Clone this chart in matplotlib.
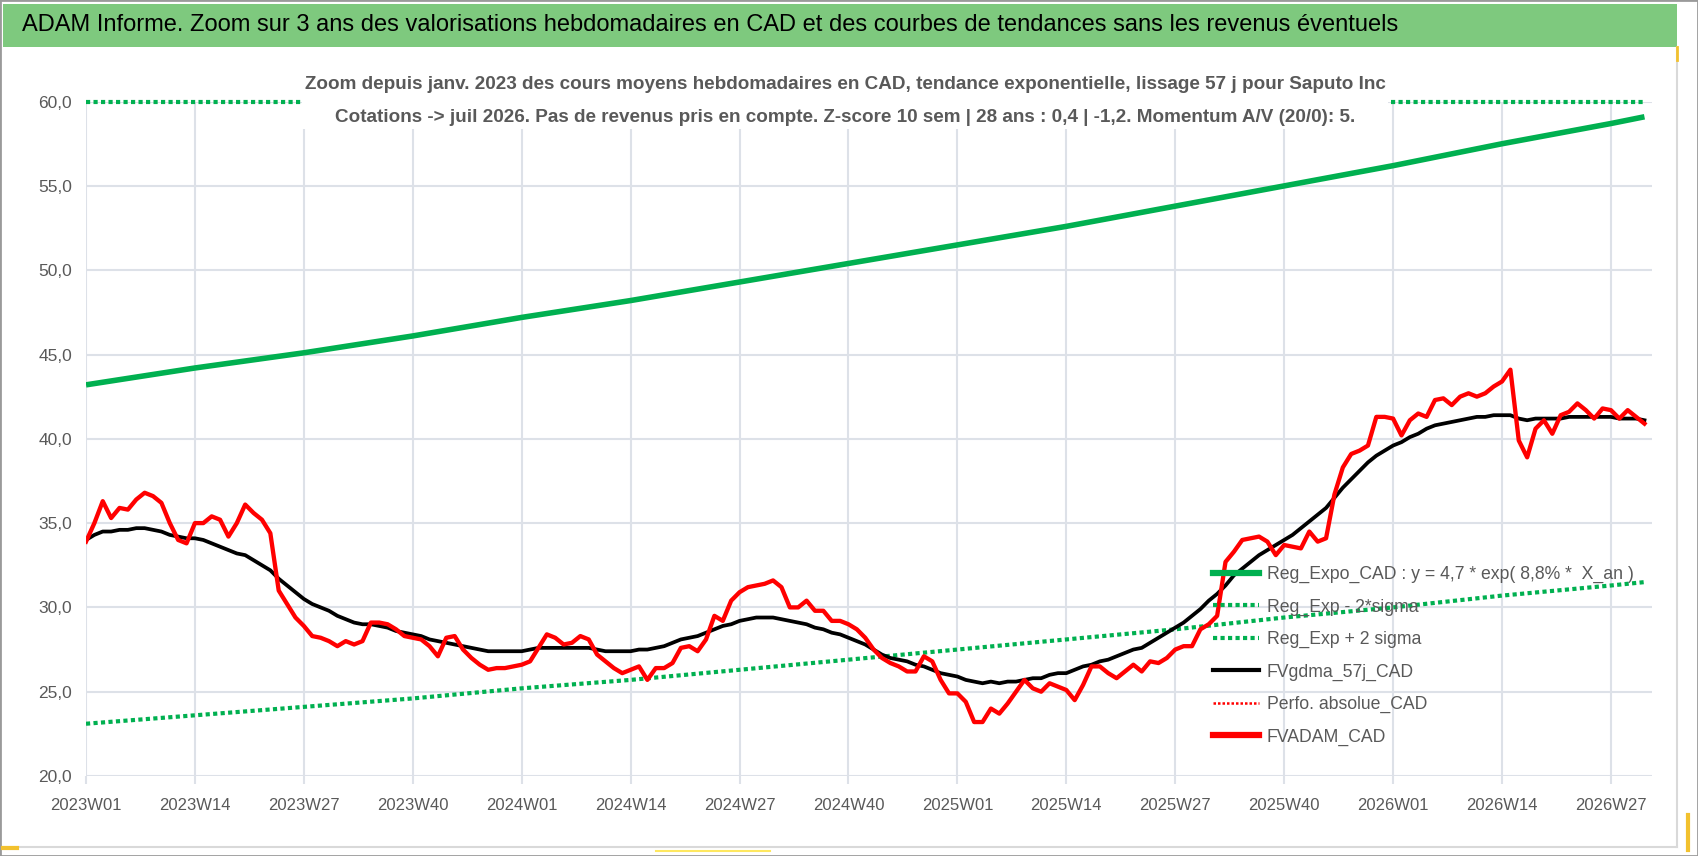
import numpy as np
import matplotlib
matplotlib.use("Agg")
import matplotlib.pyplot as plt
from matplotlib.lines import Line2D
from matplotlib.patches import Rectangle
from matplotlib.ticker import FuncFormatter

plt.rcParams['font.family'] = ['Liberation Sans Narrow', 'Liberation Sans', 'DejaVu Sans']

# weekly valuations, 2023W01 .. 2026W31 (one value per week)
fvadam_cad = [
    33.9, 35.0, 36.3, 35.3, 35.9, 35.8, 36.4, 36.8, 36.6, 36.2,
    35.0, 34.0, 33.8, 35.0, 35.0, 35.4, 35.2, 34.2, 35.0, 36.1,
    35.6, 35.2, 34.4, 31.0, 30.2, 29.4, 28.9, 28.3, 28.2, 28.0,
    27.7, 28.0, 27.8, 28.0, 29.1, 29.1, 29.0, 28.7, 28.3, 28.2,
    28.1, 27.7, 27.1, 28.2, 28.3, 27.5, 27.0, 26.6, 26.3, 26.4,
    26.4, 26.5, 26.6, 26.8, 27.6, 28.4, 28.2, 27.8, 27.9, 28.3,
    28.1, 27.2, 26.8, 26.4, 26.1, 26.3, 26.5, 25.7, 26.4, 26.4,
    26.7, 27.6, 27.7, 27.4, 28.1, 29.5, 29.2, 30.4, 30.9, 31.2,
    31.3, 31.4, 31.6, 31.2, 30.0, 30.0, 30.4, 29.8, 29.8, 29.2,
    29.2, 29.0, 28.7, 28.2, 27.5, 27.0, 26.7, 26.5, 26.2, 26.2,
    27.1, 26.8, 25.7, 24.9, 24.9, 24.4, 23.2, 23.2, 24.0, 23.7,
    24.3, 25.0, 25.7, 25.2, 25.0, 25.5, 25.3, 25.1, 24.5, 25.4,
    26.5, 26.5, 26.1, 25.8, 26.2, 26.6, 26.2, 26.8, 26.7, 27.0,
    27.5, 27.7, 27.7, 28.7, 29.0, 29.5, 32.7, 33.3, 34.0, 34.1,
    34.2, 33.9, 33.1, 33.7, 33.6, 33.5, 34.5, 33.9, 34.1, 36.7,
    38.3, 39.1, 39.3, 39.6, 41.3, 41.3, 41.2, 40.2, 41.1, 41.5,
    41.3, 42.3, 42.4, 42.0, 42.5, 42.7, 42.5, 42.7, 43.1, 43.4,
    44.1, 39.9, 38.9, 40.6, 41.1, 40.3, 41.4, 41.6, 42.1, 41.7,
    41.2, 41.8, 41.7, 41.2, 41.7, 41.3, 40.9,
]

fvgdma_57j_cad = [
    34.0, 34.3, 34.5, 34.5, 34.6, 34.6, 34.7, 34.7, 34.6, 34.5,
    34.3, 34.2, 34.1, 34.1, 34.0, 33.8, 33.6, 33.4, 33.2, 33.1,
    32.8, 32.5, 32.2, 31.7, 31.3, 30.9, 30.5, 30.2, 30.0, 29.8,
    29.5, 29.3, 29.1, 29.0, 29.0, 28.9, 28.8, 28.6, 28.5, 28.4,
    28.3, 28.1, 28.0, 27.9, 27.8, 27.7, 27.6, 27.5, 27.4, 27.4,
    27.4, 27.4, 27.4, 27.5, 27.6, 27.6, 27.6, 27.6, 27.6, 27.6,
    27.6, 27.5, 27.4, 27.4, 27.4, 27.4, 27.5, 27.5, 27.6, 27.7,
    27.9, 28.1, 28.2, 28.3, 28.5, 28.7, 28.9, 29.0, 29.2, 29.3,
    29.4, 29.4, 29.4, 29.3, 29.2, 29.1, 29.0, 28.8, 28.7, 28.5,
    28.4, 28.2, 28.0, 27.8, 27.5, 27.2, 27.0, 26.9, 26.8, 26.6,
    26.5, 26.3, 26.1, 26.0, 25.9, 25.7, 25.6, 25.5, 25.6, 25.5,
    25.6, 25.6, 25.7, 25.8, 25.8, 26.0, 26.1, 26.1, 26.3, 26.5,
    26.6, 26.8, 26.9, 27.1, 27.3, 27.5, 27.6, 27.9, 28.2, 28.5,
    28.8, 29.1, 29.5, 29.9, 30.4, 30.8, 31.3, 31.9, 32.3, 32.7,
    33.1, 33.4, 33.7, 34.0, 34.3, 34.7, 35.1, 35.5, 35.9, 36.5,
    37.1, 37.6, 38.1, 38.6, 39.0, 39.3, 39.6, 39.8, 40.1, 40.3,
    40.6, 40.8, 40.9, 41.0, 41.1, 41.2, 41.3, 41.3, 41.4, 41.4,
    41.4, 41.2, 41.1, 41.2, 41.2, 41.2, 41.2, 41.3, 41.3, 41.3,
    41.3, 41.3, 41.3, 41.2, 41.2, 41.2, 41.1,
]

# exponential trend and +/- 2 sigma bands, read at the axis ticks
trend_weeks = [0, 13, 26, 39, 52, 65, 78, 91, 104, 117, 130, 143, 156, 169, 182, 186]
reg_expo_cad = [43.2, 44.2, 45.1, 46.1, 47.2, 48.2, 49.3, 50.4, 51.5, 52.6,
                53.8, 55.0, 56.2, 57.5, 58.7, 59.1]
reg_minus_2s = [23.1, 23.6, 24.1, 24.6, 25.2, 25.7, 26.3, 26.9, 27.5, 28.1,
                28.7, 29.4, 30.0, 30.7, 31.3, 31.5]
reg_plus_2s = [80.9, 82.7, 84.5, 86.3, 88.4, 90.3, 92.3, 94.4, 96.4, 98.5,
               100.7, 103.0, 105.2, 107.7, 109.9, 110.7]

tick_weeks = [0, 13, 26, 39, 52, 65, 78, 91, 104, 117, 130, 143, 156, 169, 182]
tick_labels = ['2023W01', '2023W14', '2023W27', '2023W40', '2024W01', '2024W14',
               '2024W27', '2024W40', '2025W01', '2025W14', '2025W27', '2025W40',
               '2026W01', '2026W14', '2026W27']

title = ("ADAM Informe. Zoom sur 3 ans des valorisations hebdomadaires en CAD "
         "et des courbes de tendances sans les revenus éventuels")
subtitle = ("Zoom depuis janv. 2023 des cours moyens hebdomadaires en CAD, tendance "
            "exponentielle, lissage 57 j pour Saputo Inc\n"
            "Cotations -> juil 2026. Pas de revenus pris en compte. Z-score 10 sem | "
            "28 ans : 0,4 | -1,2. Momentum A/V (20/0): 5.")

GREEN = '#00B050'
GREY_TXT = '#595959'
YMIN, YMAX = 20, 60

W, H = 1698, 856
fig = plt.figure(figsize=(W / 100, H / 100), dpi=100, facecolor='white')

# frame, title bar and chart-area borders
fig.patches.append(Rectangle((0, 0), 1, 1, transform=fig.transFigure, fill=False,
                             edgecolor='#9A9A9A', lw=2))
fig.patches.append(Rectangle((0.002, 1 - 47 / H), 1677 / W - 0.002, 43 / H,
                             transform=fig.transFigure, facecolor='#7EC97E',
                             edgecolor='none'))
fig.lines.append(Line2D([0.002, 1677 / W], [1 - 847 / H] * 2, transform=fig.transFigure,
                        color='#D9D9D9', lw=1.5))
fig.lines.append(Line2D([1677 / W] * 2, [1 - 47 / H, 1 - 847 / H], transform=fig.transFigure,
                        color='#D9D9D9', lw=1.5))
fig.lines.append(Line2D([0.002, 17 / W], [1 - 848 / H] * 2, transform=fig.transFigure,
                        color='#F2C12E', lw=3))
fig.lines.append(Line2D([656 / W, 770 / W], [1 - 851 / H] * 2, transform=fig.transFigure,
                        color='#FFE860', lw=1.5))
fig.lines.append(Line2D([1688 / W] * 2, [1 - 815 / H, 1 - 850 / H], transform=fig.transFigure,
                        color='#F2C12E', lw=3))
fig.lines.append(Line2D([1677 / W] * 2, [1 - 47 / H, 1 - 60 / H], transform=fig.transFigure,
                        color='#F2C12E', lw=2))

fig.text(22 / W, 1 - 25 / H, title, fontsize=17, color='black', ha='left', va='center')

ax = fig.add_axes([86 / W, 1 - 776 / H, (1652 - 86) / W, (776 - 101.6) / H])
ax.set_facecolor('none')

weeks = np.arange(len(fvadam_cad))

ax.plot(trend_weeks, reg_expo_cad, color=GREEN, lw=4, solid_capstyle='butt', zorder=3)
ax.plot(trend_weeks, reg_minus_2s, color=GREEN, lw=3, linestyle=(0, (1, 0.8)), zorder=3)
ax.plot(trend_weeks, np.minimum(reg_plus_2s, YMAX), color=GREEN, lw=3,
        linestyle=(0, (1, 0.8)), clip_on=False, zorder=3)
ax.plot(weeks, fvgdma_57j_cad, color='black', lw=2.7, zorder=4)
ax.plot(weeks, fvadam_cad, color='#FF0000', lw=3.1, zorder=5)

ax.set_xlim(0, 186.9)
ax.set_ylim(YMIN, YMAX)
ax.set_yticks(np.arange(YMIN, YMAX + 1, 5))
ax.yaxis.set_major_formatter(FuncFormatter(lambda v, p: f"{v:.1f}".replace('.', ',')))
ax.set_xticks(tick_weeks)
ax.set_xticklabels(tick_labels)
ax.grid(True, color='#DDE1E8', lw=1.5, zorder=0)
ax.set_axisbelow(True)
for s in ax.spines.values():
    s.set_visible(False)
ax.tick_params(axis='y', length=0, pad=10, labelsize=12.5, labelcolor=GREY_TXT)
ax.tick_params(axis='x', length=6, width=1.5, color='#DDE1E8', pad=10,
               labelsize=12, labelcolor=GREY_TXT)

fig.text(845 / W, 1 - 101 / H, subtitle, fontsize=13.6, fontweight='bold', color=GREY_TXT,
         ha='center', va='center', multialignment='center', linespacing=2.3,
         bbox=dict(facecolor='white', edgecolor='none', pad=2), zorder=10)

handles = [
    Line2D([], [], color=GREEN, lw=4.5),
    Line2D([], [], color=GREEN, lw=3, linestyle=(0, (1, 0.8))),
    Line2D([], [], color=GREEN, lw=3, linestyle=(0, (1, 0.8))),
    Line2D([], [], color='black', lw=3),
    Line2D([], [], color='#FF0000', lw=1.8, linestyle=(0, (1, 0.8))),
    Line2D([], [], color='#FF0000', lw=4.5),
]
labels = ['Reg_Expo_CAD : y = 4,7 * exp( 8,8% *  X_an )', 'Reg_Exp - 2*sigma',
          'Reg_Exp + 2 sigma', 'FVgdma_57j_CAD', 'Perfo. absolue_CAD', 'FVADAM_CAD']
leg = fig.legend(handles, labels, loc='upper left', bbox_to_anchor=(1213 / W, 1 - 566 / H),
                 frameon=False, fontsize=12.7, handlelength=2.6, handletextpad=0.45,
                 labelspacing=0.87, borderpad=0, borderaxespad=0)
for t in leg.get_texts():
    t.set_color(GREY_TXT)

fig.savefig('out.png', dpi=100, facecolor='white')
